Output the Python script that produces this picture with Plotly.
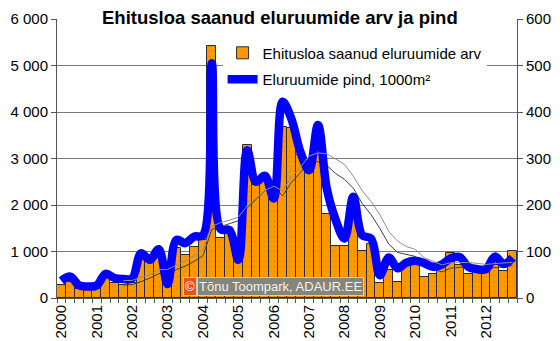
import pandas as pd
import plotly.graph_objects as go

# Quarterly series, 2000 Q1 .. 2012 Q4
years = [str(y) for y in range(2000, 2013)]
quarters = [f"{y} Q{q}" for y in range(2000, 2013) for q in range(1, 5)]

# Number of dwellings granted a building permit (left axis)
dwellings = [
    270, 345, 185, 200,
    235, 420, 320, 270,
    320, 870, 790, 960,
    280, 1070, 920, 1100,
    1250, 5420, 1300, 1430,
    790, 3300, 2430, 2520,
    2100, 3680, 3650, 3070,
    2700, 3300, 1800, 1110,
    1110, 2150, 1020, 1160,
    330, 600, 350, 720,
    830, 460, 510, 690,
    970, 710, 510, 555,
    570, 720, 590, 1010,
]

# Floor area of the dwellings, 1000 m2 (right axis)
floor_area = [
    37, 46, 27, 25,
    27, 52, 43, 41,
    42, 96, 82, 105,
    30, 125, 118, 132,
    135, 505, 148, 146,
    82, 318, 250, 263,
    214, 422, 385, 315,
    275, 372, 235, 168,
    128, 218, 135, 128,
    49, 87, 64, 76,
    80, 75, 67, 72,
    85, 88, 67, 62,
    62, 89, 73, 87,
]

left_ticks = [0, 1000, 2000, 3000, 4000, 5000, 6000]
left_tick_text = ["0", "1 000", "2 000", "3 000", "4 000", "5 000", "6 000"]
right_ticks = [0, 100, 200, 300, 400, 500, 600]

title_text = "Ehitusloa saanud eluruumide arv ja pind"
bar_name = "Ehitusloa saanud eluruumide arv"
line_name = "Eluruumide pind, 1000m²"
credit = "Tõnu Toompark, ADAUR.EE"

# two-year (8 quarter) moving averages, as trendlines
ma_window = 8
dwell_ma = pd.Series(dwellings).rolling(ma_window).mean()
area_ma = pd.Series(floor_area).rolling(ma_window).mean()

x = list(range(len(quarters)))
FONT = "Liberation Sans, Arial, sans-serif"
AXIS = "#555555"

fig = go.Figure()

fig.add_trace(go.Bar(
    x=x, y=dwellings, name=bar_name, legendgroup="a",
    width=1.0,
    marker=dict(color="#FF9900", line=dict(color="#2b2b2b", width=1),
                pattern=dict(shape=".", fgcolor="#d97f00", size=5, solidity=0.15)),
    hovertext=quarters,
))
fig.add_trace(go.Scatter(
    x=x, y=dwell_ma, mode="lines", showlegend=False, legendgroup="a",
    line=dict(color="#404040", width=1),
))
fig.add_trace(go.Scatter(
    x=x, y=floor_area, name=line_name, legendgroup="b", yaxis="y2",
    mode="lines", line=dict(color="#0000FF", width=8.5, shape="spline", smoothing=1.0),
    hovertext=quarters,
))
fig.add_trace(go.Scatter(
    x=x, y=area_ma, mode="lines", showlegend=False, yaxis="y2", legendgroup="b",
    line=dict(color="#909090", width=1),
))

fig.update_layout(
    width=560, height=341, autosize=False,
    margin=dict(l=57, r=43, t=19, b=43, pad=0),
    paper_bgcolor="white", plot_bgcolor="white",
    font=dict(family=FONT, size=15, color="black"),
    bargap=0,
    showlegend=True,
    legend=dict(
        x=0.36, y=0.937, xanchor="left", yanchor="top",
        bgcolor="white", borderwidth=0,
        font=dict(family=FONT, size=15, color="black"),
        tracegroupgap=4, traceorder="grouped", itemwidth=30,
    ),
    xaxis=dict(
        range=[-0.5, len(x) - 0.5], automargin=False,
        tickmode="array", tickvals=x[::4], ticktext=years,
        tickangle=-90, ticks="",
        minor=dict(tick0=-0.5, dtick=1, ticks="outside", ticklen=4, tickcolor=AXIS),
        showline=True, linecolor=AXIS, linewidth=1,
        showgrid=False, zeroline=False,
        tickfont=dict(family=FONT, size=15),
    ),
    yaxis=dict(
        range=[0, 6000], automargin=False,
        tickmode="array", tickvals=left_ticks, ticktext=left_tick_text,
        ticks="outside", ticklen=5, tickcolor=AXIS,
        showline=True, linecolor=AXIS, linewidth=1,
        showgrid=True, gridcolor="#7a7a7a", gridwidth=1, zeroline=False,
        tickfont=dict(family=FONT, size=15),
    ),
    yaxis2=dict(
        range=[0, 600], automargin=False,
        tickmode="array", tickvals=right_ticks,
        overlaying="y", side="right",
        ticks="outside", ticklen=5, tickcolor=AXIS,
        showline=True, linecolor=AXIS, linewidth=1,
        showgrid=False, zeroline=False,
        tickfont=dict(family=FONT, size=15),
    ),
    annotations=[
        dict(text=f"<b>{title_text}</b>", xref="paper", yref="paper",
             x=0.485, y=1.007, xanchor="center", yanchor="middle",
             showarrow=False, bgcolor="white", borderpad=2,
             font=dict(family=FONT, size=18.5, color="black")),
        dict(text=credit, xref="paper", yref="paper",
             x=0.305, y=0.043, xanchor="left", yanchor="middle",
             showarrow=False, bgcolor="#85857a", bordercolor="#d0d0c8",
             borderwidth=1, borderpad=1,
             font=dict(family=FONT, size=13, color="#f2f2f2")),
        dict(text="©", xref="paper", yref="paper",
             x=0.305, y=0.043, xanchor="right", yanchor="middle",
             showarrow=False, bgcolor="#e4531c", bordercolor="#d0d0c8",
             borderwidth=1, borderpad=1,
             font=dict(family=FONT, size=13, color="white")),
    ],
)

fig.write_html("out.html")
